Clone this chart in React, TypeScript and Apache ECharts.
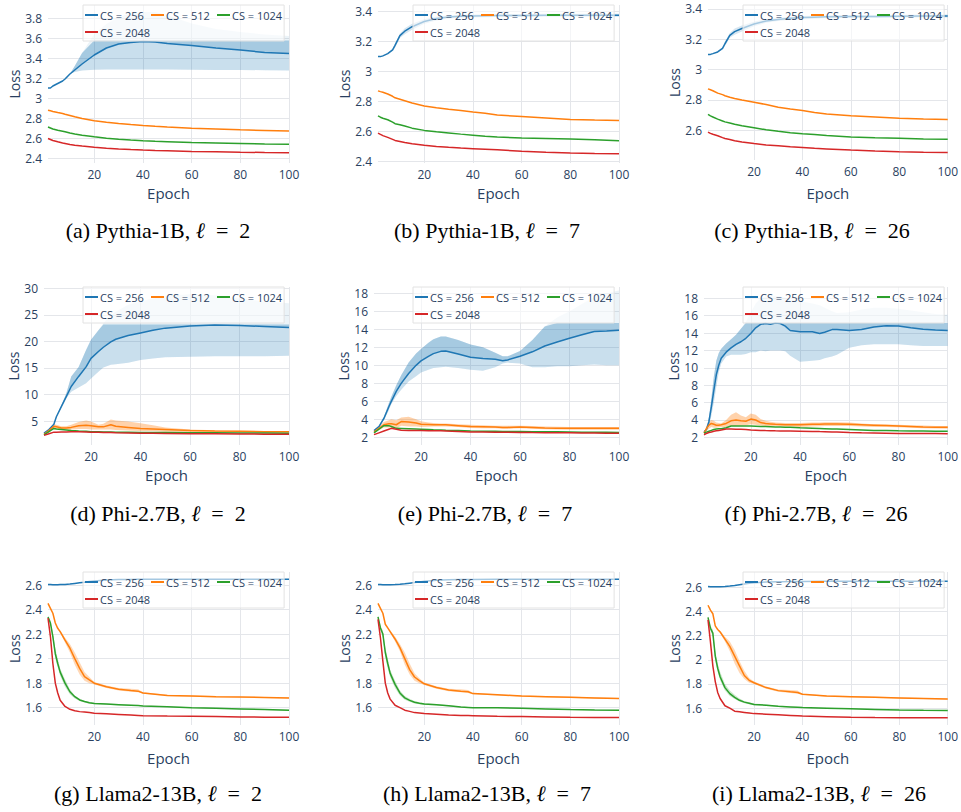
import React, { useEffect, useRef } from "react";
import * as echarts from "echarts";

// ---------- data ----------
const NAMES = ["CS = 256", "CS = 512", "CS = 1024", "CS = 2048"];
const CAPTIONS = [
  "(a) Pythia-1B, ℓ = 2", "(b) Pythia-1B, ℓ = 7", "(c) Pythia-1B, ℓ = 26",
  "(d) Phi-2.7B, ℓ = 2", "(e) Phi-2.7B, ℓ = 7", "(f) Phi-2.7B, ℓ = 26",
  "(g) Llama2-13B, ℓ = 2", "(h) Llama2-13B, ℓ = 7", "(i) Llama2-13B, ℓ = 26",
];

// Pythia epochs
const P_X = [1, 2, 3, 5, 7, 8, 10, 12, 15, 20, 25, 30, 35, 40, 45, 50, 60, 70, 80, 90, 100];
const A_256 = [3.10, 3.10, 3.12, 3.145, 3.17, 3.19, 3.24, 3.28, 3.34, 3.43, 3.50, 3.54, 3.555, 3.565, 3.56, 3.545, 3.525, 3.50, 3.48, 3.455, 3.445];
const A_256_UP = [3.10, 3.10, 3.12, 3.145, 3.17, 3.19, 3.24, 3.32, 3.45, 3.64, 3.74, 3.81, 3.845, 3.86, 3.86, 3.83, 3.745, 3.69, 3.66, 3.635, 3.62];
const A_256_IN = [3.10, 3.10, 3.12, 3.145, 3.17, 3.19, 3.24, 3.32, 3.45, 3.575, 3.575, 3.575, 3.575, 3.575, 3.575, 3.575, 3.575, 3.575, 3.575, 3.575, 3.575];
const A_256_LO = [3.10, 3.10, 3.12, 3.145, 3.17, 3.19, 3.24, 3.26, 3.275, 3.283, 3.285, 3.285, 3.285, 3.285, 3.285, 3.285, 3.283, 3.28, 3.28, 3.278, 3.275];
const A_512 = [2.878, 2.872, 2.866, 2.855, 2.845, 2.838, 2.825, 2.812, 2.795, 2.772, 2.757, 2.745, 2.735, 2.726, 2.718, 2.711, 2.698, 2.69, 2.682, 2.676, 2.671];
const A_1024 = [2.71, 2.70, 2.69, 2.677, 2.668, 2.662, 2.65, 2.64, 2.627, 2.612, 2.598, 2.588, 2.58, 2.573, 2.567, 2.563, 2.555, 2.55, 2.545, 2.54, 2.537];
const A_2048 = [2.595, 2.585, 2.575, 2.562, 2.55, 2.545, 2.535, 2.528, 2.52, 2.508, 2.498, 2.49, 2.484, 2.479, 2.475, 2.472, 2.466, 2.462, 2.458, 2.455, 2.453];

const B_256 = [3.10, 3.10, 3.105, 3.12, 3.145, 3.175, 3.24, 3.27, 3.30, 3.335, 3.355, 3.365, 3.37, 3.372, 3.373, 3.374, 3.375, 3.376, 3.376, 3.377, 3.377];
const B_256_UP = [3.10, 3.10, 3.107, 3.123, 3.152, 3.19, 3.255, 3.29, 3.32, 3.35, 3.368, 3.376, 3.38, 3.382, 3.383, 3.384, 3.385, 3.386, 3.386, 3.387, 3.387];
const B_256_LO = [3.10, 3.10, 3.103, 3.117, 3.138, 3.16, 3.225, 3.25, 3.28, 3.32, 3.342, 3.354, 3.36, 3.362, 3.363, 3.364, 3.365, 3.366, 3.366, 3.367, 3.367];
const B_512 = [2.871, 2.866, 2.862, 2.85, 2.835, 2.825, 2.815, 2.805, 2.79, 2.77, 2.758, 2.748, 2.74, 2.73, 2.722, 2.71, 2.70, 2.69, 2.68, 2.676, 2.673];
const B_1024 = [2.704, 2.695, 2.688, 2.678, 2.662, 2.652, 2.645, 2.636, 2.622, 2.607, 2.598, 2.59, 2.582, 2.575, 2.568, 2.563, 2.556, 2.553, 2.55, 2.545, 2.538];
const B_2048 = [2.589, 2.58, 2.572, 2.56, 2.547, 2.54, 2.533, 2.526, 2.518, 2.507, 2.5, 2.494, 2.489, 2.485, 2.481, 2.477, 2.467, 2.461, 2.456, 2.453, 2.451];

const C_256 = [3.10, 3.10, 3.105, 3.116, 3.14, 3.17, 3.225, 3.25, 3.27, 3.30, 3.32, 3.33, 3.338, 3.342, 3.345, 3.347, 3.349, 3.35, 3.351, 3.352, 3.353];
const C_256_UP = [3.10, 3.10, 3.107, 3.12, 3.148, 3.185, 3.24, 3.27, 3.29, 3.315, 3.332, 3.341, 3.348, 3.352, 3.355, 3.357, 3.359, 3.36, 3.361, 3.362, 3.363];
const C_256_LO = [3.10, 3.10, 3.103, 3.112, 3.132, 3.155, 3.21, 3.23, 3.25, 3.285, 3.308, 3.319, 3.328, 3.332, 3.335, 3.337, 3.339, 3.34, 3.341, 3.342, 3.343];
const C_512 = [2.873, 2.867, 2.861, 2.845, 2.835, 2.828, 2.818, 2.81, 2.80, 2.785, 2.77, 2.752, 2.74, 2.73, 2.718, 2.707, 2.696, 2.688, 2.68, 2.675, 2.671];
const C_1024 = [2.705, 2.695, 2.688, 2.674, 2.662, 2.656, 2.648, 2.64, 2.63, 2.617, 2.604, 2.594, 2.585, 2.578, 2.572, 2.566, 2.556, 2.551, 2.548, 2.544, 2.541];
const C_2048 = [2.589, 2.58, 2.574, 2.565, 2.552, 2.546, 2.54, 2.532, 2.524, 2.513, 2.504, 2.498, 2.492, 2.487, 2.482, 2.478, 2.47, 2.464, 2.459, 2.456, 2.454];

// Phi panels
const D_X = [1, 3, 5, 6, 8, 10, 12, 15, 18, 20, 23, 25, 28, 30, 35, 40, 45, 50, 60, 70, 80, 90, 100];
const D_256 = [2.7, 3.4, 4.4, 5.8, 7.7, 9.6, 11.5, 13.4, 15.2, 16.8, 18.1, 18.9, 19.9, 20.4, 21.1, 21.6, 22.1, 22.5, 22.9, 23.1, 23.0, 22.8, 22.6];
const D_256_UP = [2.7, 3.4, 4.4, 5.8, 7.9, 10.2, 13.4, 15.2, 18.4, 20.3, 22.1, 23.4, 25.0, 25.6, 26.9, 27.5, 28.1, 28.6, 28.9, 28.7, 28.1, 27.5, 27.2];
const D_256_IN = [2.7, 3.4, 4.4, 5.8, 7.9, 10.2, 13.4, 15.2, 18.4, 20.3, 22.1, 23.2, 23.2, 23.2, 23.2, 23.2, 23.2, 23.2, 23.2, 23.2, 23.2, 23.2, 23.2];
const D_256_LO = [2.7, 3.4, 4.4, 5.8, 7.5, 9.3, 10.5, 11.3, 12.1, 13.0, 14.3, 15.1, 15.6, 15.7, 16.0, 16.5, 16.8, 17.0, 17.1, 17.2, 17.2, 17.2, 17.3];
const D_512 = [2.5, 3.2, 4.0, 3.9, 3.7, 3.7, 3.8, 4.1, 4.2, 4.1, 3.9, 3.9, 4.3, 4.0, 3.8, 3.6, 3.5, 3.4, 3.2, 3.1, 3.05, 3.0, 3.0];
const D_512_UP = [2.6, 3.5, 4.4, 4.3, 4.0, 4.0, 4.3, 4.8, 5.1, 4.9, 4.3, 4.5, 5.3, 5.1, 4.9, 4.6, 4.2, 3.8, 3.4, 3.25, 3.15, 3.1, 3.1];
const D_512_LO = [2.4, 2.9, 3.6, 3.5, 3.4, 3.4, 3.4, 3.5, 3.5, 3.4, 3.4, 3.4, 3.4, 3.3, 3.2, 3.1, 3.1, 3.0, 2.95, 2.9, 2.9, 2.9, 2.9];
const D_1024 = [2.4, 3.0, 3.6, 3.5, 3.4, 3.3, 3.2, 3.1, 3.05, 3.0, 2.97, 2.95, 2.92, 2.9, 2.88, 2.85, 2.83, 2.82, 2.8, 2.78, 2.75, 2.72, 2.7];
const D_2048 = [2.3, 2.6, 2.9, 2.9, 2.95, 2.95, 2.97, 3.0, 2.95, 2.9, 2.87, 2.85, 2.82, 2.8, 2.76, 2.7, 2.68, 2.65, 2.6, 2.58, 2.55, 2.52, 2.5];

const E_X = [1, 3, 5, 7, 8, 10, 12, 15, 18, 20, 23, 25, 28, 30, 35, 40, 45, 50, 53, 55, 60, 65, 70, 75, 80, 85, 90, 95, 100];
const E_256 = [2.74, 3.2, 4.1, 5.4, 6.0, 7.1, 8.0, 9.1, 10.0, 10.5, 11.0, 11.3, 11.55, 11.6, 11.25, 10.9, 10.75, 10.67, 10.5, 10.6, 11.0, 11.5, 12.15, 12.6, 13.0, 13.4, 13.75, 13.8, 13.9];
const E_256_UP = [2.8, 3.3, 4.3, 5.8, 6.5, 7.8, 8.9, 10.3, 11.3, 11.8, 12.5, 12.9, 13.2, 13.2, 12.8, 12.3, 12.0, 11.4, 11.0, 11.0, 11.6, 12.8, 14.3, 15.3, 16.0, 16.8, 17.6, 18.0, 18.3];
const E_256_IN = [2.8, 3.3, 4.3, 5.8, 6.5, 7.8, 8.9, 10.3, 11.3, 11.8, 12.5, 12.9, 13.2, 13.2, 12.8, 12.3, 12.0, 11.4, 11.0, 11.0, 11.6, 12.8, 14.3, 14.7, 14.7, 14.7, 14.7, 14.7, 14.7];
const E_256_LO = [2.7, 3.1, 3.9, 5.0, 5.7, 6.6, 7.3, 8.2, 8.8, 9.2, 9.5, 9.7, 9.8, 9.85, 9.7, 9.5, 9.4, 9.8, 10.2, 10.3, 10.2, 9.8, 9.8, 9.9, 9.9, 10.0, 10.1, 10.0, 10.0];
const E_512 = [2.6, 3.0, 3.4, 3.5, 3.5, 3.4, 3.75, 3.7, 3.6, 3.45, 3.42, 3.4, 3.4, 3.4, 3.3, 3.2, 3.18, 3.15, 3.1, 3.1, 3.15, 3.1, 3.05, 3.02, 3.0, 3.0, 3.0, 3.0, 3.0];
const E_512_UP = [2.7, 3.2, 3.7, 3.9, 4.0, 3.9, 4.2, 4.3, 4.0, 3.8, 3.65, 3.6, 3.55, 3.55, 3.45, 3.4, 3.35, 3.3, 3.3, 3.3, 3.3, 3.25, 3.2, 3.17, 3.15, 3.15, 3.15, 3.15, 3.15];
const E_512_LO = [2.5, 2.8, 3.1, 3.1, 3.1, 3.0, 3.3, 3.2, 3.2, 3.15, 3.18, 3.2, 3.2, 3.2, 3.15, 3.05, 3.02, 3.0, 2.95, 2.95, 3.0, 2.95, 2.9, 2.88, 2.85, 2.85, 2.85, 2.85, 2.85];
const E_1024 = [2.5, 2.9, 3.3, 3.3, 3.2, 3.0, 2.98, 2.95, 2.92, 2.9, 2.87, 2.85, 2.83, 2.8, 2.75, 2.7, 2.68, 2.67, 2.66, 2.66, 2.65, 2.63, 2.62, 2.61, 2.6, 2.58, 2.57, 2.56, 2.55];
const E_2048 = [2.3, 2.5, 2.7, 2.9, 3.0, 2.9, 2.8, 2.75, 2.75, 2.75, 2.74, 2.73, 2.72, 2.7, 2.65, 2.6, 2.59, 2.58, 2.57, 2.57, 2.55, 2.53, 2.52, 2.51, 2.5, 2.48, 2.47, 2.46, 2.45];

const F_X = [1, 2, 3, 4, 5, 6, 7, 8, 10, 12, 14, 16, 18, 20, 22, 24, 26, 28, 30, 32, 34, 36, 40, 45, 48, 50, 53, 55, 60, 65, 70, 75, 80, 85, 90, 95, 100];
const F_256 = [2.65, 2.9, 3.8, 5.5, 7.4, 9.2, 10.3, 11.1, 11.8, 12.3, 12.7, 13.0, 13.4, 13.95, 14.6, 15.0, 15.1, 15.0, 15.15, 15.1, 14.8, 14.3, 14.15, 14.15, 13.95, 14.1, 14.4, 14.4, 14.3, 14.4, 14.7, 14.85, 14.8, 14.6, 14.45, 14.35, 14.3];
const F_256_UP = [2.7, 3.0, 4.3, 6.5, 9.0, 10.8, 11.7, 12.2, 12.8, 13.3, 13.8, 14.5, 15.3, 16.4, 17.4, 18.0, 18.2, 18.3, 18.3, 18.2, 18.1, 17.9, 17.7, 17.4, 17.2, 16.9, 16.5, 16.3, 16.4, 16.7, 16.9, 16.9, 16.8, 16.6, 16.4, 16.2, 16.1];
const F_256_IN = [2.7, 3.0, 4.3, 6.5, 9.0, 10.8, 11.7, 12.2, 12.8, 13.3, 13.8, 14.5, 15.15, 15.15, 15.15, 15.15, 15.15, 15.15, 15.15, 15.15, 15.15, 15.15, 15.15, 15.15, 15.15, 15.15, 15.15, 15.15, 15.15, 15.15, 15.15, 15.15, 15.15, 15.15, 15.15, 15.15, 15.15];
const F_256_LO = [2.6, 2.8, 3.3, 4.5, 6.0, 7.8, 9.5, 10.5, 11.3, 11.5, 11.5, 11.5, 11.6, 11.8, 11.8, 12.0, 11.9, 12.0, 12.0, 12.0, 11.9, 11.4, 10.7, 10.8, 10.9, 11.1, 11.3, 11.5, 12.3, 12.6, 12.7, 12.7, 12.7, 12.6, 12.5, 12.5, 12.5];
const F_512 = [2.5, 3.0, 3.4, 3.6, 3.5, 3.4, 3.4, 3.45, 3.6, 3.9, 4.0, 3.9, 3.85, 4.1, 4.0, 3.7, 3.6, 3.55, 3.5, 3.48, 3.46, 3.45, 3.45, 3.5, 3.52, 3.55, 3.55, 3.55, 3.5, 3.45, 3.4, 3.35, 3.3, 3.25, 3.2, 3.17, 3.15];
const F_512_UP = [2.6, 3.3, 3.8, 4.0, 3.9, 3.7, 3.65, 3.6, 4.0, 4.6, 4.9, 4.5, 4.3, 4.75, 4.6, 4.1, 3.9, 3.8, 3.7, 3.68, 3.66, 3.65, 3.65, 3.7, 3.72, 3.75, 3.75, 3.75, 3.7, 3.6, 3.5, 3.48, 3.45, 3.4, 3.35, 3.32, 3.3];
const F_512_LO = [2.4, 2.7, 3.0, 3.2, 3.1, 3.1, 3.15, 3.2, 3.2, 3.3, 3.3, 3.35, 3.4, 3.5, 3.45, 3.35, 3.3, 3.3, 3.3, 3.28, 3.26, 3.25, 3.2, 3.25, 3.28, 3.3, 3.3, 3.3, 3.3, 3.25, 3.2, 3.18, 3.15, 3.1, 3.05, 3.02, 3.0];
const F_1024 = [2.5, 2.6, 2.7, 2.8, 2.9, 2.95, 3.0, 3.0, 3.1, 3.3, 3.3, 3.3, 3.3, 3.3, 3.28, 3.26, 3.25, 3.23, 3.2, 3.18, 3.16, 3.15, 3.1, 3.05, 3.02, 3.0, 2.97, 2.95, 2.9, 2.85, 2.8, 2.78, 2.75, 2.73, 2.72, 2.71, 2.7];
const F_2048 = [2.3, 2.45, 2.55, 2.62, 2.7, 2.75, 2.8, 2.85, 2.95, 2.95, 2.93, 2.92, 2.9, 2.85, 2.83, 2.8, 2.78, 2.77, 2.75, 2.74, 2.73, 2.72, 2.7, 2.68, 2.66, 2.65, 2.63, 2.62, 2.55, 2.52, 2.5, 2.48, 2.45, 2.45, 2.45, 2.44, 2.42];

// Llama panels
const L_X = [1, 2, 3, 4, 5, 6, 8, 10, 12, 14, 16, 18, 20, 25, 30, 35, 38, 40, 50, 60, 70, 80, 90, 100];
const G_256 = [2.605, 2.604, 2.603, 2.603, 2.603, 2.604, 2.605, 2.608, 2.613, 2.618, 2.622, 2.628, 2.633, 2.64, 2.644, 2.645, 2.646, 2.646, 2.647, 2.647, 2.647, 2.647, 2.647, 2.647];
const G_512 = [2.45, 2.41, 2.37, 2.29, 2.247, 2.22, 2.15, 2.085, 2.0, 1.92, 1.853, 1.826, 1.80, 1.77, 1.75, 1.74, 1.735, 1.72, 1.70, 1.695, 1.69, 1.687, 1.684, 1.68];
const G_512_UP = [2.45, 2.41, 2.37, 2.29, 2.25, 2.23, 2.17, 2.12, 2.05, 1.97, 1.89, 1.85, 1.81, 1.78, 1.76, 1.755, 1.75, 1.725, 1.705, 1.70, 1.695, 1.69, 1.688, 1.685];
const G_512_LO = [2.45, 2.41, 2.37, 2.29, 2.24, 2.21, 2.13, 2.05, 1.95, 1.87, 1.82, 1.80, 1.79, 1.76, 1.74, 1.73, 1.725, 1.715, 1.695, 1.69, 1.685, 1.683, 1.68, 1.675];
const G_1024 = [2.34, 2.29, 2.18, 2.04, 1.96, 1.89, 1.80, 1.73, 1.69, 1.663, 1.65, 1.64, 1.635, 1.63, 1.625, 1.62, 1.617, 1.614, 1.608, 1.60, 1.595, 1.59, 1.585, 1.58];
const G_1024_UP = [2.35, 2.31, 2.21, 2.08, 2.0, 1.92, 1.83, 1.75, 1.70, 1.672, 1.657, 1.647, 1.64, 1.635, 1.63, 1.625, 1.62, 1.617, 1.611, 1.603, 1.598, 1.593, 1.588, 1.584];
const G_1024_LO = [2.33, 2.27, 2.15, 2.0, 1.93, 1.86, 1.77, 1.71, 1.675, 1.655, 1.643, 1.633, 1.63, 1.625, 1.62, 1.615, 1.613, 1.611, 1.605, 1.597, 1.592, 1.587, 1.582, 1.576];
const G_2048 = [2.33, 2.18, 1.96, 1.80, 1.72, 1.66, 1.61, 1.587, 1.575, 1.568, 1.565, 1.56, 1.555, 1.55, 1.545, 1.54, 1.537, 1.535, 1.532, 1.53, 1.528, 1.525, 1.523, 1.522];

const H_256 = [2.605, 2.604, 2.603, 2.603, 2.603, 2.603, 2.604, 2.606, 2.61, 2.615, 2.62, 2.625, 2.63, 2.638, 2.642, 2.644, 2.645, 2.645, 2.646, 2.646, 2.647, 2.647, 2.647, 2.647];
const H_512 = [2.45, 2.41, 2.37, 2.28, 2.25, 2.22, 2.16, 2.09, 2.0, 1.91, 1.85, 1.82, 1.795, 1.765, 1.745, 1.735, 1.73, 1.715, 1.705, 1.695, 1.69, 1.685, 1.68, 1.675];
const H_512_UP = [2.45, 2.41, 2.37, 2.28, 2.255, 2.23, 2.18, 2.12, 2.05, 1.96, 1.88, 1.84, 1.805, 1.775, 1.755, 1.75, 1.745, 1.72, 1.71, 1.70, 1.695, 1.69, 1.685, 1.68];
const H_512_LO = [2.45, 2.41, 2.37, 2.28, 2.245, 2.21, 2.14, 2.06, 1.95, 1.87, 1.82, 1.80, 1.785, 1.755, 1.735, 1.725, 1.72, 1.71, 1.70, 1.69, 1.685, 1.68, 1.675, 1.67];
const H_1024 = [2.34, 2.25, 2.20, 2.05, 1.96, 1.88, 1.79, 1.72, 1.68, 1.66, 1.645, 1.637, 1.63, 1.625, 1.615, 1.605, 1.602, 1.60, 1.60, 1.595, 1.59, 1.585, 1.582, 1.58];
const H_1024_UP = [2.35, 2.27, 2.23, 2.09, 2.0, 1.91, 1.82, 1.74, 1.695, 1.672, 1.655, 1.645, 1.637, 1.63, 1.62, 1.609, 1.606, 1.603, 1.603, 1.598, 1.593, 1.588, 1.585, 1.583];
const H_1024_LO = [2.33, 2.23, 2.17, 2.01, 1.92, 1.85, 1.76, 1.70, 1.665, 1.648, 1.635, 1.629, 1.623, 1.62, 1.61, 1.601, 1.598, 1.597, 1.597, 1.592, 1.587, 1.582, 1.579, 1.577];
const H_2048 = [2.32, 2.17, 1.98, 1.80, 1.72, 1.67, 1.62, 1.60, 1.58, 1.57, 1.56, 1.557, 1.553, 1.547, 1.54, 1.537, 1.536, 1.535, 1.53, 1.528, 1.525, 1.522, 1.521, 1.52];

const I_256 = [2.605, 2.604, 2.603, 2.603, 2.603, 2.604, 2.606, 2.609, 2.614, 2.62, 2.626, 2.632, 2.637, 2.642, 2.645, 2.646, 2.647, 2.647, 2.648, 2.648, 2.649, 2.649, 2.649, 2.649];
const I_512 = [2.45, 2.41, 2.38, 2.28, 2.25, 2.23, 2.17, 2.11, 2.03, 1.95, 1.87, 1.83, 1.81, 1.77, 1.745, 1.735, 1.73, 1.715, 1.70, 1.695, 1.69, 1.685, 1.68, 1.675];
const I_512_UP = [2.45, 2.41, 2.38, 2.28, 2.255, 2.24, 2.19, 2.15, 2.08, 1.99, 1.91, 1.85, 1.82, 1.78, 1.755, 1.75, 1.745, 1.72, 1.705, 1.70, 1.695, 1.69, 1.685, 1.68];
const I_512_LO = [2.45, 2.41, 2.38, 2.28, 2.245, 2.22, 2.15, 2.07, 1.97, 1.89, 1.84, 1.81, 1.80, 1.76, 1.735, 1.725, 1.72, 1.71, 1.695, 1.69, 1.685, 1.68, 1.675, 1.67];
const I_1024 = [2.35, 2.26, 2.22, 2.03, 1.93, 1.86, 1.77, 1.72, 1.69, 1.665, 1.65, 1.64, 1.63, 1.625, 1.615, 1.61, 1.607, 1.605, 1.60, 1.595, 1.59, 1.585, 1.582, 1.58];
const I_1024_UP = [2.36, 2.28, 2.25, 2.07, 1.97, 1.90, 1.80, 1.745, 1.71, 1.68, 1.66, 1.648, 1.638, 1.63, 1.62, 1.614, 1.61, 1.608, 1.603, 1.598, 1.593, 1.588, 1.585, 1.583];
const I_1024_LO = [2.34, 2.24, 2.19, 1.99, 1.90, 1.83, 1.745, 1.70, 1.675, 1.655, 1.64, 1.633, 1.625, 1.62, 1.61, 1.606, 1.604, 1.602, 1.597, 1.592, 1.587, 1.582, 1.579, 1.577];
const I_2048 = [2.33, 2.15, 1.95, 1.82, 1.73, 1.68, 1.62, 1.60, 1.575, 1.57, 1.565, 1.56, 1.555, 1.55, 1.545, 1.54, 1.537, 1.535, 1.53, 1.525, 1.522, 1.52, 1.52, 1.52];

// y-axis ranges and tick steps per panel
const Y_RANGES = [
  [2.35, 3.93, 0.2], [2.389, 3.445, 0.2], [2.405, 3.425, 0.2],
  [0.48, 30.25, 5], [1.15, 18.7, 2], [1.12, 19.3, 2],
  [1.459, 2.706, 0.2], [1.459, 2.706, 0.2], [1.461, 2.725, 0.2],
];

// ---------- styling / layout ----------
const COLORS = ["#1f77b4", "#ff7f0e", "#2ca02c", "#d62728"];
const FONT = "'Open Sans', 'Noto Sans', sans-serif";
const SERIF = "'Liberation Serif', 'DejaVu Serif', serif";
const INK = "#2a3f5f";
const GRIDC = "#e4e6ea";

const LAYOUT = [
  { box: [48, 5, 289, 163], lg: [83, 5], cap: [158, 230], gy: 26, gx: 22 },
  { box: [378, 5, 619, 163], lg: [413, 5], cap: [487, 230], gy: 26, gx: 22 },
  { box: [708, 5, 949, 160], lg: [743, 5], cap: [812, 230], gy: 26, gx: 25 },
  { box: [44, 287, 289, 445], lg: [83, 287], cap: [158, 513], gy: 22, gx: 22 },
  { box: [374, 287, 619, 445], lg: [413, 287], cap: [485, 513], gy: 22, gx: 22 },
  { box: [704, 287, 949, 445], lg: [743, 287], cap: [816, 513], gy: 22, gx: 22 },
  { box: [48, 572, 289, 725], lg: [83, 572], cap: [158, 793], gy: 27, gx: 25 },
  { box: [378, 572, 619, 725], lg: [413, 572], cap: [487, 793], gy: 27, gx: 25 },
  { box: [708, 572, 949, 725], lg: [743, 572], cap: [819, 793], gy: 27, gx: 25 },
];

function rgba(hex: string, a: number) {
  const n = parseInt(hex.slice(1), 16);
  return `rgba(${(n >> 16) & 255},${(n >> 8) & 255},${n & 255},${a})`;
}

type Band = { up: number[]; lo: number[]; c: number; a: number };
type Panel = { x: number[]; lines: number[][]; bands: Band[] };

function blueTriple(up: number[], inner: number[], lo: number[], mean: number[]): Band[] {
  return [
    { up, lo, c: 0, a: 0.09 },
    { up: inner, lo, c: 0, a: 0.165 },
    { up: inner, lo: mean, c: 0, a: 0.2 },
  ];
}

const PANELS: Panel[] = [
  { x: P_X, lines: [A_256, A_512, A_1024, A_2048], bands: blueTriple(A_256_UP, A_256_IN, A_256_LO, A_256) },
  { x: P_X, lines: [B_256, B_512, B_1024, B_2048], bands: [{ up: B_256_UP, lo: B_256_LO, c: 0, a: 0.18 }] },
  { x: P_X, lines: [C_256, C_512, C_1024, C_2048], bands: [{ up: C_256_UP, lo: C_256_LO, c: 0, a: 0.18 }] },
  { x: D_X, lines: [D_256, D_512, D_1024, D_2048], bands: [...blueTriple(D_256_UP, D_256_IN, D_256_LO, D_256), { up: D_512_UP, lo: D_512_LO, c: 1, a: 0.35 }] },
  { x: E_X, lines: [E_256, E_512, E_1024, E_2048], bands: [...blueTriple(E_256_UP, E_256_IN, E_256_LO, E_256), { up: E_512_UP, lo: E_512_LO, c: 1, a: 0.35 }] },
  { x: F_X, lines: [F_256, F_512, F_1024, F_2048], bands: [...blueTriple(F_256_UP, F_256_IN, F_256_LO, F_256), { up: F_512_UP, lo: F_512_LO, c: 1, a: 0.35 }] },
  { x: L_X, lines: [G_256, G_512, G_1024, G_2048], bands: [{ up: G_512_UP, lo: G_512_LO, c: 1, a: 0.3 }, { up: G_1024_UP, lo: G_1024_LO, c: 2, a: 0.25 }] },
  { x: L_X, lines: [H_256, H_512, H_1024, H_2048], bands: [{ up: H_512_UP, lo: H_512_LO, c: 1, a: 0.3 }, { up: H_1024_UP, lo: H_1024_LO, c: 2, a: 0.25 }] },
  { x: L_X, lines: [I_256, I_512, I_1024, I_2048], bands: [{ up: I_512_UP, lo: I_512_LO, c: 1, a: 0.3 }, { up: I_1024_UP, lo: I_1024_LO, c: 2, a: 0.25 }] },
];

function buildOption() {
  const grid: any[] = [];
  const xAxis: any[] = [];
  const yAxis: any[] = [];
  const series: any[] = [];
  const legend: any[] = [];
  const graphic: any[] = [];

  PANELS.forEach((p, i) => {
    const L = LAYOUT[i];
    const [l, t, r, b] = L.box;
    const [ymin, ymax, ystep] = Y_RANGES[i];
    grid.push({ left: l, top: t, width: r - l, height: b - t, containLabel: false });
    xAxis.push({
      type: "value", gridIndex: i, min: 1, max: 100, minInterval: 20, maxInterval: 20,
      name: "Epoch", nameLocation: "middle", nameGap: L.gx,
      nameTextStyle: { color: INK, fontSize: 15, fontFamily: FONT },
      axisLine: { show: false }, axisTick: { show: false },
      axisLabel: { showMinLabel: false, margin: 5, color: INK, fontSize: 12, fontFamily: FONT },
      splitLine: { show: true, showMinLine: false, lineStyle: { color: GRIDC, width: 1 } },
    });
    yAxis.push({
      type: "value", gridIndex: i, min: ymin, max: ymax, minInterval: ystep, maxInterval: ystep,
      name: "Loss", nameLocation: "middle", nameGap: L.gy,
      nameTextStyle: { color: INK, fontSize: 14, fontFamily: FONT },
      axisLine: { show: false }, axisTick: { show: false },
      axisLabel: { showMinLabel: false, showMaxLabel: false, margin: 6, color: INK, fontSize: 12, fontFamily: FONT },
      splitLine: { show: true, showMinLine: false, showMaxLine: false, lineStyle: { color: GRIDC, width: 1 } },
    });
    p.bands.forEach((bd) => {
      const xs = p.x;
      series.push({
        type: "custom", xAxisIndex: i, yAxisIndex: i, clip: true, silent: true, z: 1,
        data: [[xs[0], bd.lo[0]]],
        renderItem: (params: any, api: any) => {
          if (params.dataIndex !== 0) return null;
          const pts: number[][] = [];
          for (let k = 0; k < xs.length; k++) pts.push(api.coord([xs[k], bd.up[k]]));
          for (let k = xs.length - 1; k >= 0; k--) pts.push(api.coord([xs[k], bd.lo[k]]));
          return { type: "polygon", shape: { points: pts }, style: { fill: rgba(COLORS[bd.c], bd.a), stroke: null, lineWidth: 0 } };
        },
      });
    });
    p.lines.forEach((ys, k) => {
      series.push({
        type: "line", name: NAMES[k], xAxisIndex: i, yAxisIndex: i,
        data: p.x.map((x, j) => [x, ys[j]]),
        symbol: "none", silent: true, clip: true, z: 2,
        lineStyle: { color: COLORS[k], width: 1.5 },
        itemStyle: { color: COLORS[k] },
      });
    });
    legend.push({
      left: L.lg[0], top: L.lg[1], width: 218, orient: "horizontal",
      data: NAMES.map((n, k) => ({ name: n, icon: "rect", itemStyle: { color: COLORS[k], borderWidth: 0 } })),
      selectedMode: false,
      itemWidth: 13, itemHeight: 2, itemGap: 3,
      padding: [3, 2, 2, 2],
      itemStyle: { borderWidth: 0 },
      lineStyle: { width: 0 },
      backgroundColor: "rgba(255,255,255,0.6)", borderColor: "#e2e2e2", borderWidth: 1,
      textStyle: { color: INK, fontSize: 11, fontFamily: FONT, width: 48, lineHeight: 14, padding: [0, 0, 0, -3] },
    });
    const parts = CAPTIONS[i].split("ℓ");
    graphic.push({
      type: "text", x: L.cap[0], y: L.cap[1], silent: true,
      style: {
        text: `${parts[0]}{e|ℓ}${parts[1].replace(" = ", "\u2002=\u2002")}`,
        rich: { e: { fontStyle: "italic", fontSize: 22, fontFamily: SERIF, fill: "#000" } },
        fill: "#000", fontSize: 22, fontFamily: SERIF, align: "center", verticalAlign: "middle",
      },
    });
  });

  return { animation: false, backgroundColor: "#fff", grid, xAxis, yAxis, series, legend, graphic };
}

export default function App() {
  const ref = useRef<HTMLDivElement>(null);
  useEffect(() => {
    if (!ref.current) return;
    const chart = echarts.init(ref.current, null, { renderer: "svg" });
    chart.setOption(buildOption() as any);
    return () => chart.dispose();
  }, []);
  return (
    <div
      ref={ref}
      style={{ position: "absolute", left: 0, top: 0, width: 961, height: 812, background: "#fff" }}
    />
  );
}
